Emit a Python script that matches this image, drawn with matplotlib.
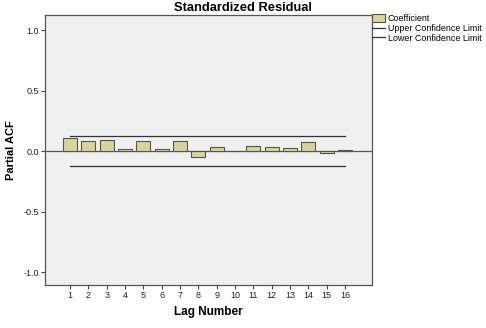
import matplotlib
matplotlib.use("Agg")
import matplotlib.pyplot as plt
from matplotlib.patches import Patch
from matplotlib.lines import Line2D

lags = list(range(1, 17))
coef = [0.105, 0.085, 0.094, 0.017, 0.080, 0.015, 0.080, -0.050,
        0.030, 0.002, 0.038, 0.035, 0.025, 0.075, -0.013, 0.008]
upper = [0.121] * 16
lower = [-0.121] * 16
yticks = [-1.0, -0.5, 0.0, 0.5, 1.0]

plt.rcParams["font.family"] = ["Liberation Sans", "DejaVu Sans"]

fig = plt.figure(figsize=(4.86, 3.28), dpi=100)
ax = fig.add_axes([45 / 486, 1 - 285 / 328, 327 / 486, 270 / 328])
ax.set_facecolor("#f0f0f0")

ax.axhline(0, color="#555555", linewidth=0.9, zorder=1)
ax.bar(lags, coef, width=0.76, color="#d8d39c", edgecolor="#55554a",
       linewidth=0.8, zorder=2)
ax.plot(lags, upper, color="#333333", linewidth=0.9, zorder=3)
ax.plot(lags, lower, color="#333333", linewidth=0.9, zorder=3)

ax.set_xlim(-0.37, 17.47)
ax.set_ylim(-1.107, 1.124)
ax.set_xticks(lags)
ax.set_yticks(yticks)
ax.set_yticklabels(["-1.0", "-0.5", "0.0", "0.5", "1.0"])
ax.tick_params(axis="both", labelsize=6.5, length=3, width=0.8,
               color="#444444", labelcolor="#222222", pad=1.5)
for s in ax.spines.values():
    s.set_color("#555555")
    s.set_linewidth(0.9)

ax.set_xlabel("Lag Number", fontsize=8.5, fontweight="bold", labelpad=4)
ax.set_ylabel("Partial ACF", fontsize=8, fontweight="bold")
ax.yaxis.set_label_coords(-0.089, 0.5)
fig.text(0.5, 1 - 8 / 328, "Standardized Residual", ha="center", va="center",
         fontsize=9.3, fontweight="bold")

handles = [Patch(facecolor="#d8d39c", edgecolor="#55554a", linewidth=0.8),
           Line2D([], [], color="#333333", linewidth=0.9),
           Line2D([], [], color="#333333", linewidth=0.9)]
labels = ["Coefficient", "Upper Confidence Limit", "Lower Confidence Limit"]
fig.legend(handles, labels, loc="upper left", bbox_to_anchor=(372 / 486, 1 - 14 / 328),
           frameon=False, fontsize=6.4, handlelength=1.5, handleheight=0.9,
           handletextpad=0.3, labelspacing=0.1, borderaxespad=0, borderpad=0)

fig.savefig("out.png", dpi=100, facecolor="white")
